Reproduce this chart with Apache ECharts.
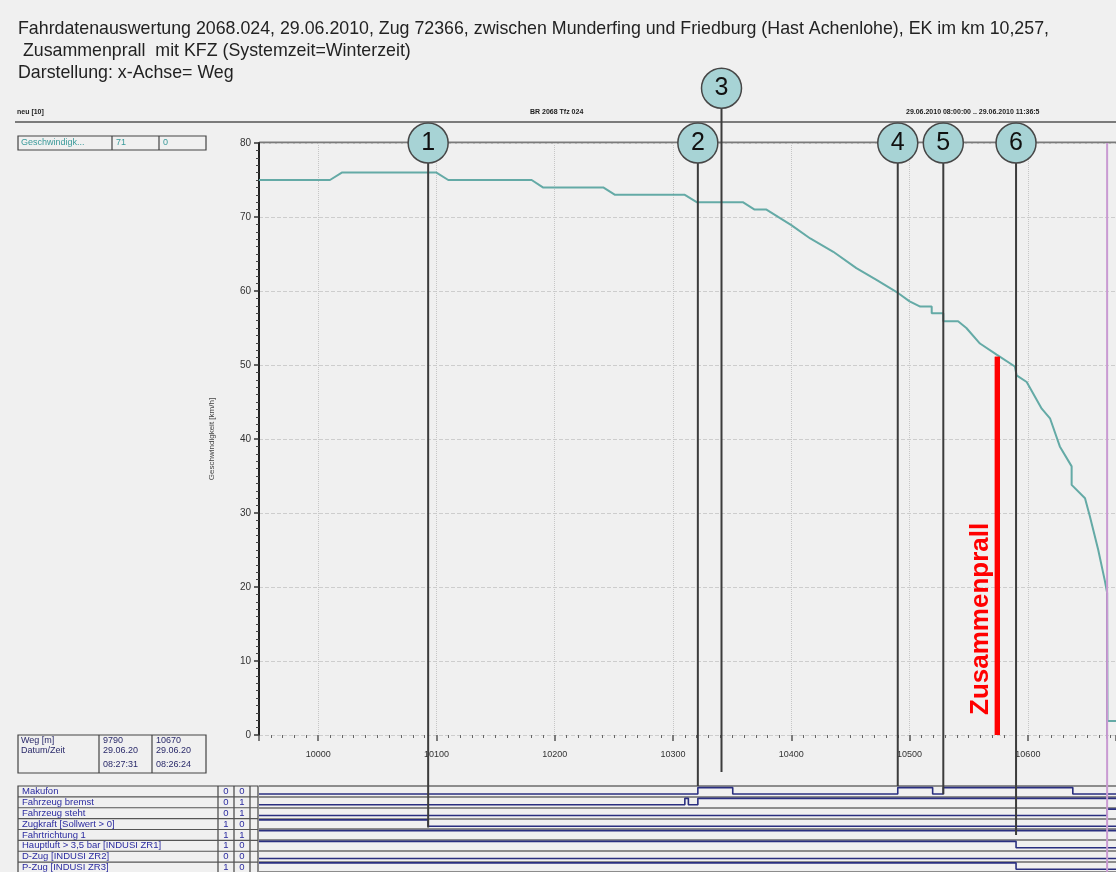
<!DOCTYPE html>
<html><head><meta charset="utf-8">
<script src="https://cdn.jsdelivr.net/npm/echarts@6/dist/echarts.min.js"></script>
<style>html,body{margin:0;padding:0;background:#f0f0f0}#c{width:1116px;height:872px}</style>
</head><body><div id="c"></div>
<script>
// ---------- data ----------
const titleLines = [
  'Fahrdatenauswertung 2068.024, 29.06.2010, Zug 72366, zwischen Munderfing und Friedburg (Hast Achenlohe), EK im km 10,257,',
  ' Zusammenprall  mit KFZ (Systemzeit=Winterzeit)',
  'Darstellung: x-Achse= Weg'
];
const headerLeft = 'neu [10]';
const headerCenter = 'BR 2068 Tfz 024';
const headerRight = '29.06.2010 08:00:00 .. 29.06.2010 11:36:5';
const yAxisName = 'Geschwindigkeit [km/h]';
const wegMin = 9950;
const wegMax = 10674.5;

const speedWeg = [9950,10010,10020,10100,10110,10180.5,10190,10241,10251,10310,10320,10359,10369,10379,10400,10416,10435.5,10455,10472,10490.5,10500,10509,10518.7,10518.7,10528.5,10528.5,10541,10548,10559.5,10573.6,10589,10590.5,10599,10611.7,10618.7,10627,10637,10637,10648.3,10652.5,10659.5,10665,10667,10667.3,10674.5];
const speedKmh = [75,75,76,76,75,75,74,74,73,73,72,72,71,71,68.9,67.1,65.3,63.1,61.5,59.7,58.6,57.9,57.9,57,57,55.9,55.9,55,52.9,51.4,49.8,48.6,47.7,44.1,42.8,39,36.3,33.8,32,29.5,25,20.9,19.2,1.9,1.9];

const markerNames = ['1','2','3','4','5','6'];
const markerWeg = [10093,10321,10341,10490,10528.5,10590];
const markerTop = [80,80,87.4,80,80,80];
const markerBottom = [-12.5,-6.9,-5,-6.9,-8,-13.5];

const cursorWeg = 10667;
const cursorTop = 80;
const cursorBottom = -18.5;
const dropKmh = [19.2,-0.5];

const collisionWeg = 10574;
const collisionKmh = 51.1;
const collisionLabel = 'Zusammenprall';

const signalNames = ['Makufon','Fahrzeug bremst','Fahrzeug steht','Zugkraft [Sollwert > 0]','Fahrtrichtung 1','Hauptluft > 3,5 bar [INDUSI ZR1]','D-Zug [INDUSI ZR2]','P-Zug [INDUSI ZR3]'];
const signalStartValues = ['0','0','0','1','1','1','0','1'];
const signalEndValues = ['0','1','1','0','1','0','0','0'];
const signalChanges = [
  [[9950,0],[10321,1],[10350.5,0],[10490,1],[10519.5,0],[10528.5,1],[10638,0]],
  [[9950,0],[10310,1],[10313,0],[10321,1]],
  [[9950,0],[10667,1]],
  [[9950,1],[10093,0]],
  [[9950,1]],
  [[9950,1],[10590,0]],
  [[9950,0]],
  [[9950,1],[10590,0]]
];

const legendRow = ['Geschwindigk...','71','0'];
const cursorTable = [['Weg [m]','9790','10670'],['Datum/Zeit','29.06.20','29.06.20'],['','08:27:31','08:26:24']];

// ---------- chart ----------
const FONT = 'Liberation Sans, Arial, sans-serif';
const chart = echarts.init(document.getElementById('c'));

const G = []; // graphic elements
function txt(x,y,t,o){G.push({type:'text',x:x,y:y,silent:true,style:Object.assign({text:t,font:'9px '+FONT,fill:'#222',textVerticalAlign:'middle'},o||{})});}
function ln(x1,y1,x2,y2,c,w){G.push({type:'line',silent:true,shape:{x1,y1,x2,y2},style:{stroke:c,lineWidth:w}});}
function box(x,y,w,h,c){G.push({type:'rect',silent:true,shape:{x,y,width:w,height:h},style:{fill:'none',stroke:c,lineWidth:1.2}});}

// header
txt(17,112,headerLeft,{font:'bold 7px '+FONT});
txt(530,112,headerCenter,{font:'bold 7px '+FONT});
txt(906,112,headerRight,{font:'bold 7px '+FONT});
ln(15,122,1116,122,'#555',1.5);
ln(259,142.5,1116,142.5,'#7a7a7a',2);

// legend row
box(18,136,188,14,'#444');
ln(112,136,112,150,'#444',1.2); ln(159,136,159,150,'#444',1.2);
txt(21,143,legendRow[0],{fill:'#3a9a9a'});
txt(116,143,legendRow[1],{fill:'#3a9a9a'});
txt(163,143,legendRow[2],{fill:'#3a9a9a'});

// cursor table
box(18,735,188,38,'#444');
ln(99,735,99,773,'#444',1.2); ln(152,735,152,773,'#444',1.2);
const ctY=[741,751,765];
cursorTable.forEach((r,i)=>{txt(21,ctY[i],r[0],{fill:'#2a2a6a'});txt(103,ctY[i],r[1],{fill:'#2a2a6a'});txt(156,ctY[i],r[2],{fill:'#2a2a6a'});});

// signal table
const sTop=786, sRow=10.875;
box(18,sTop,240,sRow*8,'#444');
[218,234,250].forEach(x=>ln(x,sTop,x,sTop+sRow*8,'#444',1.2));
signalNames.forEach((n,i)=>{
  if(i>0) ln(18,sTop+i*sRow,258,sTop+i*sRow,'#555',1.2);
  const cy=sTop+i*sRow+sRow/2;
  txt(22,cy,n,{fill:'#2b2ba0',font:'9.5px '+FONT});
  txt(226,cy,signalStartValues[i],{fill:'#2b2ba0',textAlign:'center',font:'9.5px '+FONT});
  txt(242,cy,signalEndValues[i],{fill:'#2b2ba0',textAlign:'center',font:'9.5px '+FONT});
});

const series = [];
// speed curve
series.push({type:'line',xAxisIndex:0,yAxisIndex:0,data:speedWeg.map((w,i)=>[w,speedKmh[i]]),
  showSymbol:false,symbol:'none',lineStyle:{color:'#64aaa6',width:2},z:3,animation:false});
// navy drop at cursor
series.push({type:'line',data:dropKmh.map(v=>[cursorWeg,v]),symbol:'none',clip:false,
  lineStyle:{color:'#3a3a80',width:1.5},z:4,animation:false});
// cursor (pink)
series.push({type:'line',data:[[cursorWeg,cursorTop],[cursorWeg,cursorBottom]],symbol:'none',clip:false,
  lineStyle:{color:'#c99ad2',width:2},z:4,animation:false});
// marker lines
markerWeg.forEach((w,i)=>{
  series.push({type:'line',data:[[w,markerTop[i]],[w,markerBottom[i]]],symbol:'none',clip:false,
    lineStyle:{color:'#3c3c3c',width:2},z:5,animation:false});
});
// marker circles
series.push({type:'scatter',clip:false,data:markerWeg.map((w,i)=>({value:[w,markerTop[i]],name:markerNames[i]})),
  symbol:'circle',symbolSize:40,z:10,animation:false,
  itemStyle:{color:'#a7d3d5',borderColor:'#474747',borderWidth:1.5,opacity:1},
  label:{show:true,position:'inside',formatter:p=>p.name,fontSize:25,color:'#111',fontFamily:FONT}});
// collision line
series.push({type:'line',data:[[collisionWeg,0],[collisionWeg,collisionKmh]],symbol:'none',clip:false,
  lineStyle:{color:'#ff0000',width:5},z:6,animation:false,
  markLine:{silent:true,symbol:['none','none'],animation:false,
    lineStyle:{color:'#ff0000',width:5,type:'solid'},
    label:{show:true,position:'insideStartTop',distance:[20,3],formatter:collisionLabel,
      color:'#ff0000',fontSize:26,fontWeight:'bold',fontFamily:FONT},
    data:[[{coord:[collisionWeg,0]},{coord:[collisionWeg,collisionKmh]}]]}});
// signals
signalChanges.forEach((ch,i)=>{
  const lvl=v=>i+(v?0.15:0.75);
  const d=ch.map(p=>[p[0],lvl(p[1])]);
  d.push([wegMax,lvl(ch[ch.length-1][1])]);
  series.push({type:'line',xAxisIndex:1,yAxisIndex:1,data:d,step:'end',symbol:'none',
    lineStyle:{color:'#2a2f80',width:1.6},z:3,animation:false});
});

chart.setOption({
  backgroundColor:'#f0f0f0',
  animation:false,
  title:{text:titleLines.join('\n'),left:13,top:13,
    textStyle:{fontSize:17.8,fontWeight:'normal',color:'#222',fontFamily:FONT,lineHeight:22}},
  grid:[
    {left:259,right:0,top:143,height:592,containLabel:false},
    {left:259,right:0,top:sTop,height:sRow*8,containLabel:false}
  ],
  xAxis:[
    {type:'value',gridIndex:0,min:wegMin,max:wegMax,splitNumber:7,
      axisLine:{show:false},
      axisTick:{show:true,length:6,lineStyle:{color:'#555',width:1.5}},
      minorTick:{show:true,splitNumber:10,length:3,lineStyle:{color:'#666'}},
      axisLabel:{showMinLabel:false,showMaxLabel:false,fontSize:9,color:'#333',margin:15,fontFamily:FONT,
        formatter:v=>String(v)},
      splitLine:{show:true,lineStyle:{color:'#c6c6c6',type:'dotted',width:1}}},
    {type:'value',gridIndex:1,min:wegMin,max:wegMax,show:false}
  ],
  yAxis:[
    {type:'value',gridIndex:0,min:0,max:80,interval:10,name:yAxisName,nameLocation:'middle',nameGap:43,nameRotate:90,
      nameTextStyle:{fontSize:8,color:'#444',fontFamily:FONT},
      axisLine:{show:true,lineStyle:{color:'#222',width:2}},
      axisTick:{show:true,length:5,lineStyle:{color:'#333',width:1.5}},
      minorTick:{show:true,splitNumber:10,length:3,lineStyle:{color:'#444'}},
      axisLabel:{fontSize:10,color:'#333',margin:8,fontFamily:FONT},
      splitLine:{show:true,lineStyle:{color:'#cdcdcd',type:'dashed',width:1}}},
    {type:'value',gridIndex:1,min:0,max:8,interval:1,inverse:true,
      axisLine:{show:false},axisTick:{show:false},axisLabel:{show:false},
      splitLine:{show:true,lineStyle:{color:'#8c8c8c',width:2}}}
  ],
  series:series,
  graphic:G
});
</script></body></html>
